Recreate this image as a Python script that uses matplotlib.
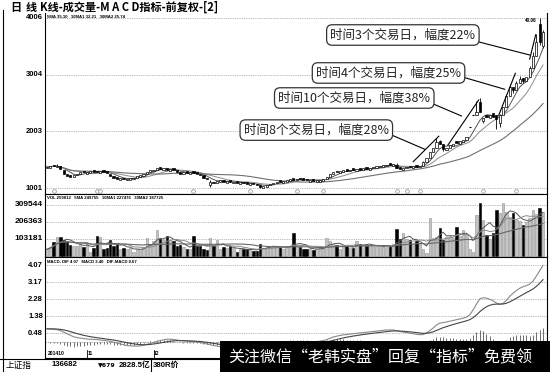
import matplotlib
matplotlib.use('Agg')
import matplotlib.pyplot as plt
import matplotlib.transforms as mtrans
from matplotlib.patches import Rectangle
from matplotlib.lines import Line2D
import numpy as np
import pandas as pd

plt.rcParams['font.family'] = ['Noto Sans CJK SC', 'DejaVu Sans']

# ---------------- data ----------------
closes = [
    13.8, 13.9, 13.9, 14.0, 13.4, 12.6, 12.1, 12.0, 12.3, 12.6,
    12.9, 12.8, 12.9, 13.0, 12.9, 12.8, 13.0, 12.9, 12.7, 12.2,
    11.9, 11.7, 11.8, 11.6, 11.7, 11.8, 11.9, 12.1, 12.3, 12.5,
    12.9, 13.2, 13.3, 13.5, 13.4, 13.5, 13.3, 13.4, 13.2, 12.8,
    12.6, 12.8, 12.7, 12.9, 12.7, 12.5, 12.3, 11.8, 11.6, 11.2,
    10.9, 11.3, 11.4, 11.2, 11.3, 11.1, 11.2, 11.0, 11.1, 10.9,
    10.8, 10.9, 10.7, 10.5, 10.3, 10.4, 10.6, 10.8, 11.0, 11.2,
    11.1, 11.3, 11.5, 11.6, 11.5, 11.7, 11.6, 11.5, 11.4, 11.5,
    11.3, 11.4, 11.5, 11.6, 12.0, 12.5, 12.9, 12.8, 13.0, 13.2,
    13.1, 13.3, 13.2, 13.4, 13.3, 13.5, 13.4, 13.6, 13.8, 13.9,
    14.0, 14.1, 14.2, 14.1, 14.3, 13.5, 13.4, 13.6, 13.8, 13.7,
    13.9, 13.8, 14.0, 14.6, 15.3, 16.4, 17.2, 18.2, 17.9, 16.9,
    17.1, 17.6, 17.9, 18.0, 18.3, 18.6, 19.0, 20.9, 23.0, 23.4,
    23.5, 22.4, 22.5, 22.9, 22.6, 22.2, 23.0, 24.4, 26.3, 27.8,
    27.4, 28.6, 29.3, 29.0, 29.6, 31.2, 33.4, 35.8, 35.8, 37.6,
]
opens = [
    13.5, 13.6, 14.2, 13.7, 13.9, 13.2, 12.5, 12.3, 12.0, 12.3,
    12.6, 13.1, 12.6, 12.7, 13.2, 13.1, 12.7, 13.2, 13.0, 12.6,
    12.2, 12.0, 11.5, 11.9, 11.4, 11.5, 11.6, 11.8, 12.0, 12.2,
    12.5, 12.9, 13.0, 13.2, 13.7, 13.2, 13.6, 13.1, 13.5, 13.2,
    12.9, 12.5, 13.0, 12.6, 13.0, 12.8, 12.6, 12.3, 11.9, 10.5,
    11.2, 11.0, 11.1, 11.5, 11.0, 11.4, 10.9, 11.3, 10.8, 11.2,
    11.1, 10.6, 11.0, 10.8, 10.6, 10.1, 10.3, 10.5, 10.7, 10.9,
    11.4, 11.0, 11.2, 11.3, 11.8, 11.4, 11.9, 11.8, 11.7, 11.2,
    11.6, 11.1, 11.2, 11.3, 11.6, 12.0, 12.5, 13.1, 12.7, 12.9,
    13.4, 13.0, 13.5, 13.1, 13.6, 13.2, 13.7, 13.3, 13.5, 13.6,
    13.7, 13.8, 13.9, 14.4, 14.0, 14.2, 13.7, 13.3, 13.5, 14.0,
    13.6, 14.1, 13.7, 14.0, 14.6, 15.3, 16.4, 17.2, 18.4, 17.8,
    16.8, 17.1, 17.5, 18.4, 17.9, 18.2, 18.6, 20.9, 23.0, 23.0,
    25.2, 21.9, 22.9, 22.4, 23.3, 22.9, 21.6, 23.0, 24.4, 26.3,
    27.9, 27.4, 28.6, 29.5, 29.0, 29.6, 31.2, 33.4, 39.0, 35.2,
]
# wick extremes where they extend beyond the body
highs = {3: 14.3, 49: 11.4, 105: 14.5, 113: 14.8, 117: 18.8, 118: 18.6,
         129: 25.4, 130: 26.0, 136: 23.2, 138: 26.6, 139: 28.4, 141: 29.0,
         142: 29.8, 145: 31.6, 146: 34.0, 147: 37.2, 148: 40.06, 149: 38.0}
lows = {49: 10.3, 64: 10.1, 119: 16.6, 131: 21.6, 135: 20.4, 136: 20.8,
        140: 26.9, 143: 28.6, 148: 35.3, 149: 34.8}

volumes_k = [
    40, 56, 86, 112, 116, 96, 92, 66, 60, 62,
    72, 56, 80, 26, 50, 120, 116, 45, 50, 96,
    60, 80, 45, 50, 42, 48, 26, 45, 40, 52,
    110, 70, 92, 156, 100, 95, 120, 98, 92, 60,
    65, 55, 45, 40, 120, 62, 58, 40, 38, 106,
    60, 96, 45, 55, 50, 58, 48, 26, 45, 40,
    42, 40, 28, 30, 72, 50, 55, 58, 60, 56,
    52, 40, 62, 60, 136, 60, 56, 40, 42, 48,
    35, 45, 46, 48, 108, 90, 70, 66, 45, 58,
    62, 50, 50, 88, 75, 68, 62, 66, 60, 58,
    55, 52, 48, 60, 70, 160, 100, 136, 100, 96,
    72, 88, 80, 40, 20, 230, 110, 115, 166, 96,
    116, 118, 110, 172, 120, 156, 126, 40, 22, 246,
    317, 216, 126, 100, 140, 276, 260, 317, 266, 236,
    256, 215, 210, 186, 206, 230, 276, 250, 287, 266,
]

dif = [
    0.72, 0.71, 0.70, 0.68, 0.63, 0.55, 0.46, 0.38, 0.30, 0.26,
    0.23, 0.21, 0.18, 0.17, 0.16, 0.15, 0.13, 0.11, 0.09, 0.06,
    0.02, -0.03, -0.08, -0.12, -0.16, -0.18, -0.19, -0.19, -0.18, -0.15,
    -0.10, -0.05, 0.00, 0.05, 0.10, 0.14, 0.17, 0.17, 0.16, 0.13,
    0.10, 0.09, 0.07, 0.06, 0.04, 0.02, 0.00, -0.04, -0.08, -0.12,
    -0.16, -0.19, -0.22, -0.24, -0.26, -0.27, -0.28, -0.30, -0.31, -0.32,
    -0.34, -0.35, -0.37, -0.39, -0.41, -0.42, -0.41, -0.38, -0.35, -0.31,
    -0.28, -0.24, -0.20, -0.16, -0.12, -0.09, -0.06, -0.04, -0.02, 0.00,
    0.02, 0.04, 0.07, 0.10, 0.15, 0.22, 0.29, 0.33, 0.37, 0.40,
    0.42, 0.44, 0.46, 0.48, 0.50, 0.52, 0.54, 0.56, 0.58, 0.60,
    0.62, 0.64, 0.66, 0.66, 0.66, 0.62, 0.58, 0.55, 0.52, 0.49,
    0.46, 0.43, 0.41, 0.42, 0.50, 0.62, 0.76, 0.92, 1.02, 1.05,
    1.08, 1.12, 1.16, 1.20, 1.24, 1.28, 1.33, 1.46, 1.72, 2.02,
    2.30, 2.36, 2.34, 2.28, 2.20, 2.08, 2.02, 2.06, 2.22, 2.44,
    2.60, 2.74, 2.86, 2.94, 3.00, 3.08, 3.24, 3.50, 3.78, 4.07,
]

price_ticks = [10.01, 20.03, 30.04, 40.06]
price_labels = ['1001', '2003', '3004', '4006']
vol_ticks = [103181, 206363, 309544]
vol_labels = ['103181', '206363', '309544']
macd_ticks = [0.48, 1.38, 2.28, 3.17, 4.07]
macd_labels = ['0.48', '1.38', '2.28', '3.17', '4.07']
date_labels = ['201410', '11', '12']
date_index = [0, 12, 32]
event_index = [2, 15, 16, 44, 61, 75, 83, 105, 108, 112, 131, 141]

# callouts: text, box centre (index, price), connector start, connector end
callouts = [
    ('时间8个交易日，幅度28%', (80.9, 20.28), (103.5, 19.41), (113.5, 16.89)),
    ('时间10个交易日，幅度38%', (92.3, 25.94), (114.4, 25.29), (124.5, 22.77)),
    ('时间4个交易日，幅度25%', (102.6, 30.36), (124.5, 29.7), (137.5, 27.48)),
    ('时间3个交易日，幅度22%', (106.9, 37.06), (129.4, 35.88), (145.0, 33.53)),
]
trend_lines = [
    ((110.0, 14.7), (117.7, 19.2)),
    ((120.4, 17.6), (129.7, 25.6)),
    ((135.7, 22.9), (140.7, 30.3)),
    ((145.0, 32.8), (146.8, 37.1)),
]

# ---------------- figure ----------------
W, H = 550, 372
fig = plt.figure(figsize=(W / 100, H / 100), dpi=100)
fig.patch.set_facecolor('white')


def rect(l, t, r, b):
    return [l / W, 1 - b / H, (r - l) / W, (b - t) / H]


def fx(px):
    return px / W


def fy(py):
    return 1 - py / H


NUMFONT = ['Liberation Sans', 'DejaVu Sans']
GRID = dict(color='#777777', lw=0.5, ls=(0, (1, 1.6)))

ax = fig.add_axes(rect(45, 13, 547, 194))
axv = fig.add_axes(rect(45, 194, 547, 257))
axm = fig.add_axes(rect(45, 257, 547, 358))

n = len(closes)
idx = np.arange(n)
XL = (-0.6, 150.2)

for a in (ax, axv, axm):
    a.set_xlim(*XL)
    a.set_xticks([])
    a.set_yticks([])
    for s in a.spines.values():
        s.set_linewidth(0.8)
        s.set_color('black')
ax.spines['top'].set_visible(False)

# ----- main K-line panel -----
ax.set_ylim(9.0, 40.94)
for v in price_ticks:
    ax.axhline(v, zorder=0, **GRID)

c = np.array(closes)
o = np.array(opens)
for i in range(n):
    up = c[i] >= o[i]
    hi = highs.get(i, max(o[i], c[i]))
    lo = lows.get(i, min(o[i], c[i]))
    if hi > max(o[i], c[i]) or lo < min(o[i], c[i]):
        ax.vlines(i, lo, hi, color='black', lw=0.6, zorder=3)
    bot = min(o[i], c[i])
    h = abs(c[i] - o[i])
    if h < 0.06:
        ax.hlines(c[i], i - 0.35, i + 0.35, color='black', lw=0.8, zorder=4)
    else:
        ax.add_patch(Rectangle((i - 0.33, bot), 0.66, h,
                               facecolor='white' if up else 'black',
                               edgecolor='black', lw=0.5, zorder=4))

cs = pd.Series(closes)
ma5 = cs.rolling(5, min_periods=1).mean()
ma10 = cs.rolling(10, min_periods=1).mean()
ma30 = cs.rolling(30, min_periods=1).mean()
ax.plot(idx, ma5, color='#555555', lw=0.7, zorder=2)
ax.plot(idx, ma10, color='#8a8a8a', lw=0.7, zorder=2)
ax.plot(idx, ma30, color='#707070', lw=0.8, zorder=2)

ax.scatter(event_index, [9.55] * len(event_index), s=7, facecolor='white',
           edgecolor='#888888', lw=0.5, zorder=5)

for (p0, p1) in trend_lines:
    ax.plot([p0[0], p1[0]], [p0[1], p1[1]], color='black', lw=0.8, zorder=6)
for text, centre, s0, s1 in callouts:
    ax.plot([s0[0], s1[0]], [s0[1], s1[1]], color='black', lw=0.8, zorder=6)
    ax.text(centre[0], centre[1], text, ha='center', va='center', fontsize=9,
            color='#222222', zorder=8,
            bbox=dict(boxstyle='round,pad=0.3,rounding_size=0.45',
                      facecolor='white', edgecolor='#333333', lw=0.9))

ax.text(147.2, 40.06, '40.06', ha='right', va='top', fontsize=3.3,
        family=NUMFONT, weight='bold', zorder=7)

# ----- volume panel -----
vols = np.array(volumes_k) * 1000
axv.set_ylim(-6010, 372661)
for v in vol_ticks:
    axv.axhline(v, zorder=0, **GRID)
upmask = c >= o
axv.bar(idx[upmask], vols[upmask], width=0.72, facecolor='#c4c4c4',
        edgecolor='#909090', lw=0.4, zorder=2)
axv.bar(idx[~upmask], vols[~upmask], width=0.72, facecolor='black',
        edgecolor='black', lw=0.4, zorder=2)
vs = pd.Series(vols)
axv.plot(idx, vs.rolling(5, min_periods=1).mean(), color='#555555', lw=0.7, zorder=3)
axv.plot(idx, vs.rolling(10, min_periods=1).mean(), color='#8a8a8a', lw=0.7, zorder=3)
axv.plot(idx, vs.rolling(30, min_periods=1).mean(), color='#666666', lw=0.8, zorder=3)

# ----- MACD panel -----
axm.set_ylim(-0.82, 4.51)
for v in macd_ticks:
    axm.axhline(v, zorder=0, **GRID)
axm.axhline(0, color='#777777', lw=0.5, ls=(0, (2, 1.5)), zorder=0)
difs = pd.Series(dif)
dea = difs.ewm(span=9, adjust=False).mean()
hist = difs - dea
axm.vlines(idx, 0, hist, color='#555555', lw=0.6, zorder=2)
axm.plot(idx, difs, color='#888888', lw=0.8, zorder=3)
axm.plot(idx, dea, color='#444444', lw=0.8, zorder=3)

bt = mtrans.blended_transform_factory(axm.transData, axm.transAxes)
for lab, pos in zip(date_labels, date_index):
    axm.text(pos + 0.2, 0.04, lab, transform=bt, ha='left', va='center',
             fontsize=3.6, family=NUMFONT, weight='bold')
    if pos > 0:
        axm.plot([pos, pos], [0.0, 0.08], transform=bt, color='black', lw=0.6)

# ----- y labels -----
for a, ticks, labels, fs in ((ax, price_ticks, price_labels, 5.5),
                             (axv, vol_ticks, vol_labels, 6.0),
                             (axm, macd_ticks, macd_labels, 5.5)):
    tr = mtrans.blended_transform_factory(a.transAxes, a.transData)
    for v, lab in zip(ticks, labels):
        a.text(-0.004, v, lab, transform=tr, ha='right', va='center',
               fontsize=fs, family=NUMFONT, weight='bold')

# ----- panel headers -----
hdr = dict(fontsize=3.1, family=NUMFONT, weight='bold', va='center', ha='left')
fig.text(fx(47), fy(16.5), '5MA 35.10   10MA1 32.21   30MA2 25.74', **hdr)
fig.text(fx(47), fy(198), 'VOL 259812   5MA 249755   10MA1 227476   30MA2 187725', **hdr)
fig.text(fx(47), fy(262), 'MACD- DIF 4.07   MACD 3.40   DIF-MACD 0.67', **hdr)

# ----- title -----
fig.text(fx(10), fy(7.5), '日', fontsize=8, weight='bold', va='center', ha='left')
fig.text(fx(26), fy(7.5), '线', fontsize=8, weight='bold', va='center', ha='left')
fig.text(fx(40), fy(7.5), 'K线-成交量-M A C D指标-前复权-[2]', fontsize=8,
         weight='bold', va='center', ha='left')

# ----- frame & status bar -----
fig.add_artist(Line2D([fx(2.5), fx(2.5)], [fy(10), fy(372)], color='black', lw=0.8))
fig.add_artist(Line2D([fx(0), fx(550)], [fy(358.5), fy(358.5)], color='black', lw=0.8))
fig.add_artist(Line2D([fx(151), fx(151)], [fy(358.5), fy(372)], color='black', lw=0.8))
sb = dict(va='center', ha='left', fontsize=5.6)
fig.text(fx(6), fy(365), '上证指', fontsize=6.2, va='center', ha='left')
fig.text(fx(52), fy(365), '136682', family=NUMFONT, weight='bold', **sb)
fig.text(fx(98), fy(365), '▼679', family=['DejaVu Sans'], weight='bold', fontsize=4.4,
         va='center', ha='left')
fig.text(fx(119), fy(365), '2828.5亿', family=['Liberation Sans', 'Noto Sans CJK SC'],
         weight='bold', **sb)
fig.text(fx(153), fy(365), '380R价', family=['Liberation Sans', 'Noto Sans CJK SC'],
         weight='bold', **sb)

fig.add_artist(Rectangle((fx(220), 0), fx(330), 31 / H, transform=fig.transFigure,
                         facecolor='black', edgecolor='none', zorder=10))
fig.text(fx(228), fy(357), '关注微信“老韩实盘”回复“指标”免费领', color='white',
         fontsize=11.5, va='center', ha='left', zorder=11)

fig.savefig('out.png', dpi=100)
